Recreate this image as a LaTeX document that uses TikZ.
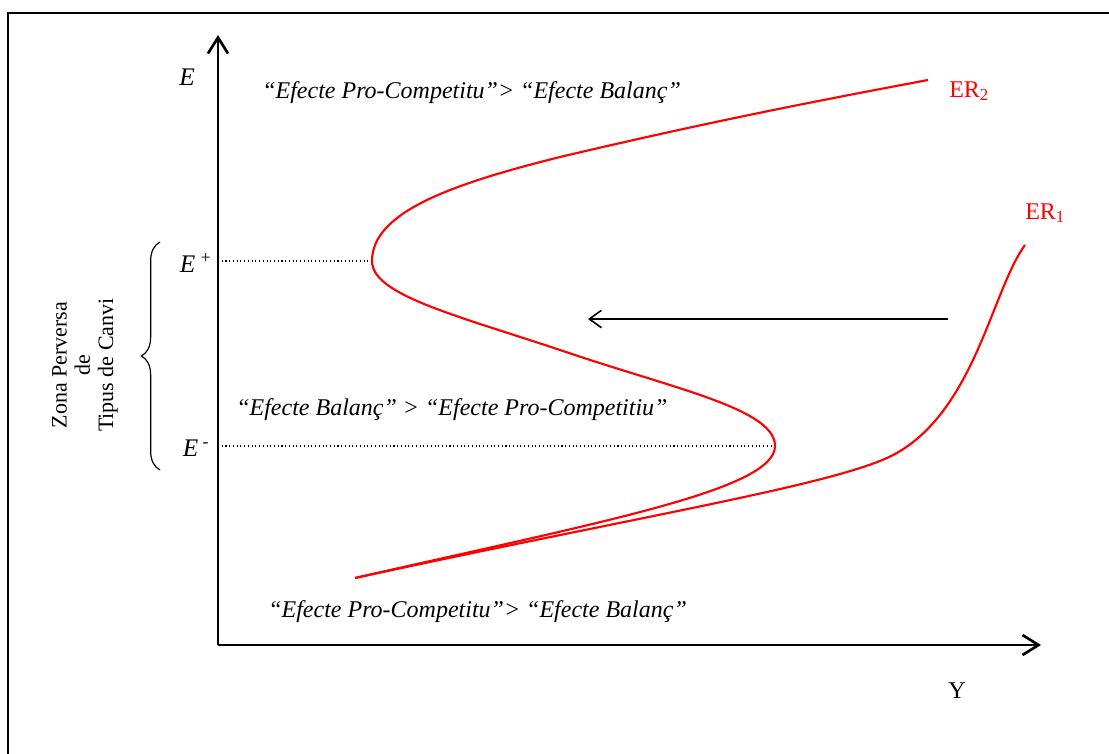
\documentclass[tikz,border=0pt]{standalone}
\usepackage{fontspec}
\setmainfont{Liberation Serif}
\usetikzlibrary{arrows.meta,positioning,decorations.pathreplacing}
\tikzset{
  axis/.style={line width=2pt, -{Straight Barb[length=12pt,width=15pt]}},
  shift arrow/.style={line width=1.2pt, -{Straight Barb[length=9pt,width=13pt]}},
  curve/.style={draw=red, line width=1.6pt},
  guide/.style={dotted, line width=0.8pt},
  eff/.style={font=\fontsize{18}{21}\selectfont\itshape, inner sep=0pt, anchor=west},
  lbl/.style={font=\fontsize{18}{21}\selectfont, inner sep=0pt},
  erlbl/.style={lbl, text=red, anchor=west},
  zone/.style={font=\fontsize{16.5}{17.5}\selectfont, align=center, inner sep=0pt, rotate=90},
}
\begin{document}
\begin{tikzpicture}[x=0.75pt, y=-0.75pt]
  \useasboundingbox (0,0) rectangle (1109,753);
  % frame
  \draw[line width=2.2pt] (8,800) -- (8,13) -- (1150,13);

  % axes
  \coordinate (O) at (218,645);
  \coordinate (ytop) at (218,35);
  \coordinate (xend) at (1041,645);
  \draw[axis] (O) -- (ytop);
  \draw[axis] (O) -- (xend);
  \node[lbl, font=\fontsize{19}{22}\selectfont\itshape] (E) at (187,77) {E};
  \node[lbl] (Y) at (957,691) {Y};

  % levels
  \node[lbl, font=\fontsize{19}{22}\selectfont\itshape] (Eplus) at (196,263) {E\,\textsuperscript{+}};
  \node[lbl, font=\fontsize{19}{22}\selectfont\itshape] (Eminus) at (196,448) {E\,\textsuperscript{-}};
  \coordinate (nose1) at (372,261);
  \coordinate (nose2) at (775,446);
  \draw[guide] (O |- nose1) -- (nose1);
  \draw[guide] (O |- nose2) -- (nose2);

  % curves
  \coordinate (foot) at (355,578);
  \coordinate (ER2end) at (928,80);
  \coordinate (ER1end) at (1025,245);
  \draw[curve] (foot) .. controls (600,522) and (775,490) .. (nose2)
    .. controls (775,410) and (680,390) .. (575,355)
    .. controls (460,316) and (372,296) .. (nose1)
    .. controls (372,212) and (452,184) .. (560,157)
    .. controls (700,124) and (800,104) .. (ER2end);
  \draw[curve] (foot) .. controls (650,514) and (840,484) .. (895,454)
    .. controls (975,410) and (992,290) .. (ER1end);
  \node[erlbl] (ER2) at (949,91) {ER\textsubscript{2}};
  \node[erlbl] (ER1) at (1025,213) {ER\textsubscript{1}};

  % shift
  \coordinate (shiftA) at (948,319);
  \coordinate (shiftB) at (588,319);
  \draw[shift arrow] (shiftA) -- (shiftB);

  % regions
  \node[eff] (top) at (262,93) {“Efecte Pro-Competitu”> “Efecte Balanç”};
  \node[eff] (mid) at (236,410) {“Efecte Balanç” > “Efecte Pro-Competitiu”};
  \node[eff] (bot) at (268,612) {“Efecte Pro-Competitu”> “Efecte Balanç”};

  % perverse zone
  \draw[line width=0.9pt, decorate, decoration={brace, amplitude=14pt}] (160,470) -- (160,242);
  \node[zone] (zona) at (85,365) {Zona Perversa\\de\\Tipus de Canvi};
\end{tikzpicture}
\end{document}
